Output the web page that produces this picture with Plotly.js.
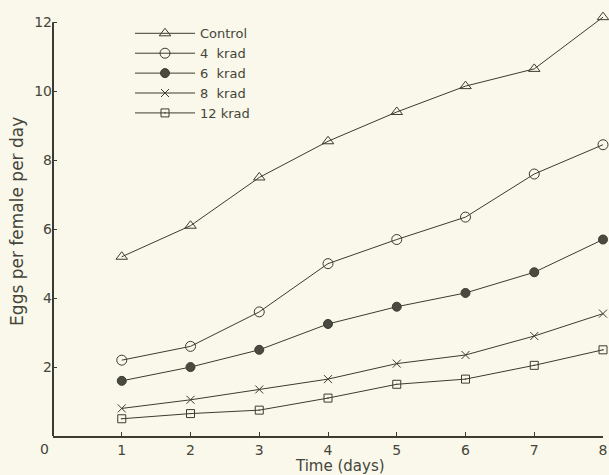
<!DOCTYPE html>
<html>
<head>
<meta charset="utf-8">
<script src="https://cdn.plot.ly/plotly-3.0.1.min.js"></script>
<style>html,body{margin:0;padding:0;background:#faf8ea;}</style>
</head>
<body>
<div id="chart" style="width:609px;height:475px;"></div>
<script>
var days = [1, 2, 3, 4, 5, 6, 7, 8];
var control = [5.2, 6.1, 7.5, 8.55, 9.4, 10.15, 10.65, 12.15];
var krad4 = [2.2, 2.6, 3.6, 5.0, 5.7, 6.35, 7.6, 8.45];
var krad6 = [1.6, 2.0, 2.5, 3.25, 3.75, 4.15, 4.75, 5.7];
var krad8 = [0.8, 1.05, 1.35, 1.65, 2.1, 2.35, 2.9, 3.55];
var krad12 = [0.5, 0.65, 0.75, 1.1, 1.5, 1.65, 2.05, 2.5];
var seriesNames = ['Control', '4  krad', '6  krad', '8  krad', '12 krad'];
var xTicks = [1, 2, 3, 4, 5, 6, 7, 8];
var yTicks = [2, 4, 6, 8, 10, 12];

var ink = '#3b3b30';
var txt = '#45453b';
var font = {family: 'DejaVu Sans', size: 14, color: txt};
var titleFont = {family: 'DejaVu Sans', size: 15, color: txt};
function tr(y, name, sym, size, fill) {
  return {
    x: days, y: y, name: name, type: 'scatter', mode: 'lines+markers',
    cliponaxis: false,
    line: {color: ink, width: 1},
    marker: {symbol: sym, size: size, color: fill, line: {color: ink, width: 1}}
  };
}
var data = [
  tr(control, seriesNames[0], 'triangle-up-open', 10, ink),
  tr(krad4, seriesNames[1], 'circle-open', 10, ink),
  tr(krad6, seriesNames[2], 'circle', 9, '#4a4a40'),
  tr(krad8, seriesNames[3], 'x-thin-open', 8, ink),
  tr(krad12, seriesNames[4], 'square-open-dot', 8, ink)
];
var layout = {
  width: 609, height: 475,
  margin: {l: 53, r: 6, t: 12, b: 39},
  paper_bgcolor: '#faf8ea', plot_bgcolor: '#faf8ea',
  font: font,
  showlegend: true,
  legend: {x: 0.14, y: 0.985, xanchor: 'left', yanchor: 'top', bgcolor: 'rgba(0,0,0,0)',
           itemwidth: 60, tracegroupgap: 0, font: {family: 'DejaVu Sans', size: 13, color: txt}},
  xaxis: {
    range: [0, 8], tickvals: xTicks, ticktext: xTicks.map(String),
    showgrid: false, zeroline: false, showline: true, linecolor: ink, linewidth: 2,
    ticks: 'inside', ticklen: 4, tickcolor: ink, tickfont: font
  },
  yaxis: {
    range: [0, 12.3], tickvals: yTicks, ticktext: yTicks.map(String),
    showgrid: false, zeroline: false, showline: false,
    ticks: 'inside', ticklen: 4, tickcolor: ink, tickfont: font
  },
  shapes: [{type: 'line', xref: 'paper', yref: 'y', x0: 0, x1: 0, y0: 0, y1: 12,
            line: {color: ink, width: 2}}],
  annotations: [
    {xref: 'paper', yref: 'paper', x: 0, y: 0, text: '0', showarrow: false,
     xanchor: 'right', yanchor: 'top', xshift: -2, yshift: -3, font: font},
    {xref: 'paper', yref: 'paper', x: 0.522, y: 0, text: 'Time (days)', showarrow: false,
     xanchor: 'center', yanchor: 'bottom', yshift: -40, borderpad: 0, font: titleFont},
    {xref: 'paper', yref: 'paper', x: 0, y: 0.505, text: 'Eggs per female per day', showarrow: false,
     textangle: -90, xanchor: 'center', yanchor: 'middle', xshift: -36,
     font: {family: 'DejaVu Sans', size: 17, color: txt}}
  ]
};
Plotly.newPlot('chart', data, layout, {displayModeBar: false, staticPlot: true});
</script>
</body>
</html>
